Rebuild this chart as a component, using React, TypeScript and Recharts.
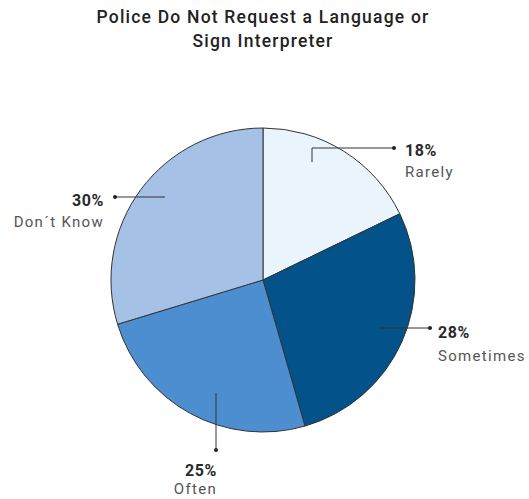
import React from "react";
import { PieChart, Pie, Cell } from "recharts";

const categories = ["Rarely", "Sometimes", "Often", "Don\u00b4t Know"];
const values = [18, 28, 25, 30];
const colors = ["#eaf4fd", "#03528a", "#4c8ecf", "#a6c1e6"];
const titleLines = ["Police Do Not Request a Language or", "Sign Interpreter"];

const data = categories.map((name, i) => ({ name, value: values[i] }));

// label layout relative to pie centre: leader polyline points, text anchor, name offset
const labelLayout = [
  { pts: [[49, -118], [49, -132], [131, -132]], tx: 142, ty: -130, gap: 22, anchor: "start" },
  { pts: [[117, 48], [167, 48]], tx: 175, ty: 52, gap: 24, anchor: "start" },
  { pts: [[-47, 113], [-47, 170]], tx: -46, ty: 190, gap: 19, anchor: "end" },
  { pts: [[-98, -83], [-148, -83]], tx: -159, ty: -80, gap: 22, anchor: "end" },
];

const renderLabel = (props: any) => {
  const { cx, cy, index } = props;
  const l = labelLayout[index];
  const pts = l.pts.map(([x, y]) => `${cx + x},${cy + y}`).join(" ");
  const last = l.pts[l.pts.length - 1];
  return (
    <g key={`lbl-${index}`}>
      <polyline points={pts} fill="none" stroke="#333" strokeWidth={1} />
      <circle cx={cx + last[0]} cy={cy + last[1]} r={2} fill="#222" />
      <text
        x={cx + l.tx}
        y={cy + l.ty}
        textAnchor={l.anchor}
        dominantBaseline="central"
        fontFamily="Roboto, sans-serif"
        fontWeight={700}
        fontSize={16}
        letterSpacing={0.6}
        fill="#2a2a2a"
      >
        {`${values[index]}%`}
      </text>
      <text
        x={cx + l.tx}
        y={cy + l.ty + l.gap}
        textAnchor={l.anchor}
        dominantBaseline="central"
        fontFamily="Roboto, sans-serif"
        fontSize={15}
        letterSpacing={1.3}
        fill="#555"
      >
        {categories[index]}
      </text>
    </g>
  );
};

export default function App() {
  return (
    <div style={{ position: "absolute", left: 0, top: 0, width: 529, height: 499, background: "#fff" }}>
      <PieChart width={529} height={499} margin={{ top: 0, right: 0, bottom: 0, left: 0 }}>
        {titleLines.map((t, i) => (
          <text
            key={i}
            x={263}
            y={17 + i * 24}
            textAnchor="middle"
            dominantBaseline="central"
            fontFamily="Roboto, sans-serif"
            fontWeight={500}
            fontSize={17.5}
            letterSpacing={1.2}
            fill="#222"
          >
            {t}
          </text>
        ))}
        <Pie
          data={data}
          dataKey="value"
          nameKey="name"
          cx={263}
          cy={280}
          outerRadius={152}
          startAngle={90}
          endAngle={-270}
          stroke="#333"
          strokeWidth={1}
          label={renderLabel}
          labelLine={false}
          isAnimationActive={false}
        >
          {data.map((d, i) => (
            <Cell key={d.name} fill={colors[i]} />
          ))}
        </Pie>
      </PieChart>
    </div>
  );
}
